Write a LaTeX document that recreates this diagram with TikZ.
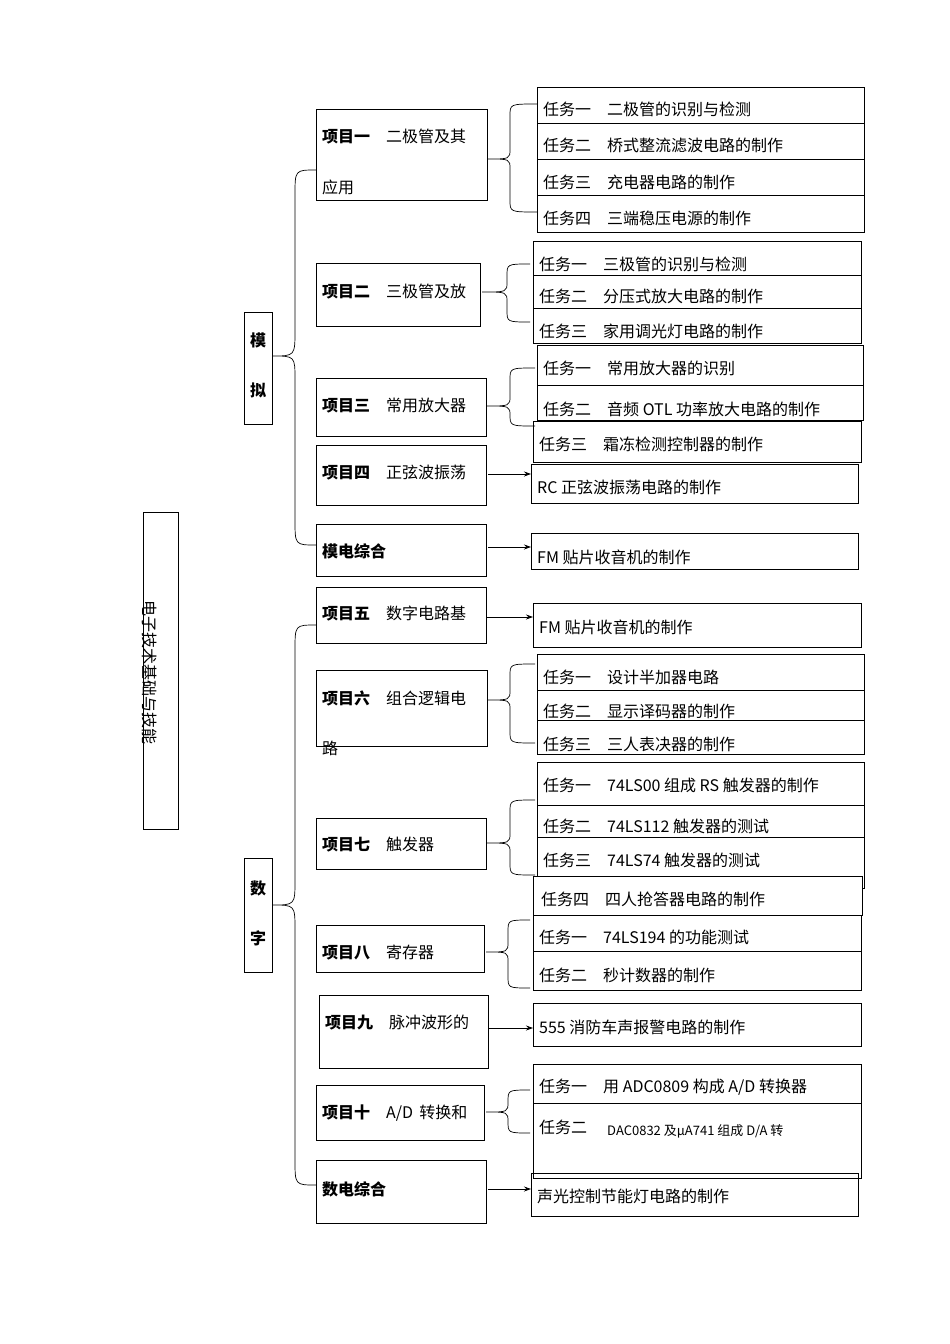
\documentclass[tikz,border=0pt]{standalone}
\usepackage{fontspec}
\setmainfont{Noto Sans CJK SC}
\usetikzlibrary{arrows.meta}
\tikzset{
 bx/.style={draw,line width=0.8pt},
 tx/.style={anchor=west,inner sep=0pt,font=\fontsize{16}{18}\selectfont},
 ln/.style={line width=0.7pt},
 arr/.style={line width=0.8pt,-{Stealth[length=7pt,width=5pt]}}
}
\newcommand{\mybrace}[6]{% tipx tipy x top bot endx
 \draw[ln] (#6,#4) .. controls (#3,#4) .. (#3,#4+12) -- (#3,#2-10) .. controls (#3,#2) .. (#1,#2)
  .. controls (#3,#2) .. (#3,#2+10) -- (#3,#5-12) .. controls (#3,#5) .. (#6,#5);}
\begin{document}
\begin{tikzpicture}[x=1pt,y=-1pt]
\useasboundingbox (0,0) rectangle (950,1344);
% root
\draw[bx] (143,512) rectangle (178,829);
\node[rotate=-90,inner sep=0pt,font=\fontsize{16}{18}\selectfont] (root) at (150,672) {电子技术基础与技能};
% category boxes
\draw[bx] (244,312) rectangle (272,424);
\node[font=\fontsize{16}{18}\bfseries\selectfont] (mo) at (258,340) {模};
\node[font=\fontsize{16}{18}\bfseries\selectfont] (ni) at (258,390) {拟};
\draw[bx] (244,858) rectangle (272,972);
\node[font=\fontsize{16}{18}\bfseries\selectfont] (shu) at (258,888) {数};
\node[font=\fontsize{16}{18}\bfseries\selectfont] (zi) at (258,938) {字};
% big braces
\draw[ln] (316,170) .. controls (295,170) .. (295,195) -- (295,330) .. controls (295,356) .. (272,356)
 .. controls (295,356) .. (295,380) -- (295,520) .. controls (295,545) .. (316,545);
\draw[ln] (316,625) .. controls (295,625) .. (295,650) -- (295,880) .. controls (295,905) .. (272,905)
 .. controls (295,905) .. (295,930) -- (295,1160) .. controls (295,1185) .. (316,1185);
% project boxes
\draw[bx] (316,109) rectangle (487,200);
\node[tx] (p1) at (322,137) {\textbf{项目一}\quad 二极管及其};
\node[tx] (p1b) at (322,187) {应用};
\draw[bx] (316,263) rectangle (480,326);
\node[tx] (p2) at (322,292) {\textbf{项目二}\quad 三极管及放};
\draw[bx] (316,378) rectangle (486,436);
\node[tx] (p3) at (322,406) {\textbf{项目三}\quad 常用放大器};
\draw[bx] (316,445) rectangle (486,505);
\node[tx] (p4) at (322,473) {\textbf{项目四}\quad 正弦波振荡};
\draw[bx] (316,524) rectangle (486,576);
\node[tx] (pm) at (322,551) {\textbf{模电综合}};
\draw[bx] (316,587) rectangle (486,643);
\node[tx] (p5) at (322,614) {\textbf{项目五}\quad 数字电路基};
\draw[bx] (316,670) rectangle (487,746);
\node[tx] (p6) at (322,698) {\textbf{项目六}\quad 组合逻辑电};
\node[tx] (p6b) at (322,748) {路};
\draw[bx] (316,818) rectangle (486,869);
\node[tx] (p7) at (322,845) {\textbf{项目七}\quad 触发器};
\draw[bx] (316,925) rectangle (484,972);
\node[tx] (p8) at (322,953) {\textbf{项目八}\quad 寄存器};
\draw[bx] (319,995) rectangle (488,1068);
\node[tx] (p9) at (325,1023) {\textbf{项目九}\quad 脉冲波形的};
\draw[bx] (316,1085) rectangle (484,1140);
\node[tx] (p10) at (322,1113) {\textbf{项目十}\quad A/D\, 转换和};
\draw[bx] (316,1160) rectangle (486,1223);
\node[tx] (pd) at (322,1189) {\textbf{数电综合}};
% task boxes
\draw[bx] (537,87) rectangle (864,232);
\draw[bx] (537,123) -- (864,123) (537,159) -- (864,159) (537,195) -- (864,195);
\node[tx] (t11) at (543,109) {任务一\quad 二极管的识别与检测};
\node[tx] (t12) at (543,145) {任务二\quad 桥式整流滤波电路的制作};
\node[tx] (t13) at (543,182) {任务三\quad 充电器电路的制作};
\node[tx] (t14) at (543,218) {任务四\quad 三端稳压电源的制作};
\draw[bx] (533,241) rectangle (861,343);
\draw[bx] (533,275) -- (861,275) (533,308) -- (861,308);
\node[tx] (t21) at (539,264) {任务一\quad 三极管的识别与检测};
\node[tx] (t22) at (539,296) {任务二\quad 分压式放大电路的制作};
\node[tx] (t23) at (539,331) {任务三\quad 家用调光灯电路的制作};
\draw[bx] (537,345) rectangle (863,420);
\draw[bx] (537,385) -- (863,385);
\draw[bx] (533,421) rectangle (861,462);
\node[tx] (t31) at (543,368) {任务一\quad 常用放大器的识别};
\node[tx] (t32) at (543,409) {任务二\quad 音频 OTL 功率放大电路的制作};
\node[tx] (t33) at (539,444) {任务三\quad 霜冻检测控制器的制作};
\draw[bx] (531,464) rectangle (858,503);
\node[tx] (t41) at (537,487) {RC 正弦波振荡电路的制作};
\draw[bx] (531,533) rectangle (858,569);
\node[tx] (tm) at (537,557) {FM 贴片收音机的制作};
\draw[bx] (533,603) rectangle (861,647);
\node[tx] (t51) at (539,627) {FM 贴片收音机的制作};
\draw[bx] (537,654) rectangle (864,754);
\draw[bx] (537,690) -- (864,690) (537,720) -- (864,720);
\node[tx] (t61) at (543,677) {任务一\quad 设计半加器电路};
\node[tx] (t62) at (543,711) {任务二\quad 显示译码器的制作};
\node[tx] (t63) at (543,744) {任务三\quad 三人表决器的制作};
\draw[bx] (537,762) rectangle (864,888);
\draw[bx] (537,805) -- (864,805) (537,837) -- (864,837);
\draw[bx,fill=white] (533,876) rectangle (862,915);
\node[tx] (t71) at (543,785) {任务一\quad 74LS00 组成 RS 触发器的制作};
\node[tx] (t72) at (543,826) {任务二\quad 74LS112 触发器的测试};
\node[tx] (t73) at (543,860) {任务三\quad 74LS74 触发器的测试};
\node[tx] (t74) at (541,899) {任务四\quad 四人抢答器电路的制作};
\draw[bx] (533,915) rectangle (861,990);
\draw[bx] (533,951) -- (861,951);
\node[tx] (t81) at (539,937) {任务一\quad 74LS194 的功能测试};
\node[tx] (t82) at (539,975) {任务二\quad 秒计数器的制作};
\draw[bx] (533,1003) rectangle (861,1046);
\node[tx] (t91) at (539,1027) {555 消防车声报警电路的制作};
\draw[bx] (533,1064) rectangle (861,1178);
\draw[bx] (533,1103) -- (861,1103);
\node[tx] (t101) at (539,1087) {任务一\quad 用 ADC0809 构成 A/D 转换器};
\node[tx] (t102) at (539,1127) {任务二};
\node[anchor=west,inner sep=0pt,font=\fontsize{13}{15}\selectfont] (t102b) at (607,1131) {DAC0832 及μA741 组成 D/A 转};
\draw[bx] (531,1173) rectangle (858,1216);
\node[tx] (td) at (537,1196) {声光控制节能灯电路的制作};
% braces
\mybrace{487}{159}{510}{104}{212}{537}
\mybrace{482}{292}{507}{264}{322}{530}
\mybrace{486}{406}{510}{368}{426}{535}
\mybrace{487}{700}{510}{664}{743}{535}
\mybrace{486}{843}{510}{800}{875}{535}
\mybrace{486}{952}{508}{920}{988}{530}
\mybrace{486}{1112}{508}{1090}{1133}{530}
% arrows
\draw[arr] (488,474) -- (531,474);
\draw[arr] (488,547) -- (531,547);
\draw[arr] (487,617) -- (533,617);
\draw[arr] (489,1028) -- (533,1028);
\draw[arr] (488,1189) -- (531,1189);
\end{tikzpicture}
\end{document}
